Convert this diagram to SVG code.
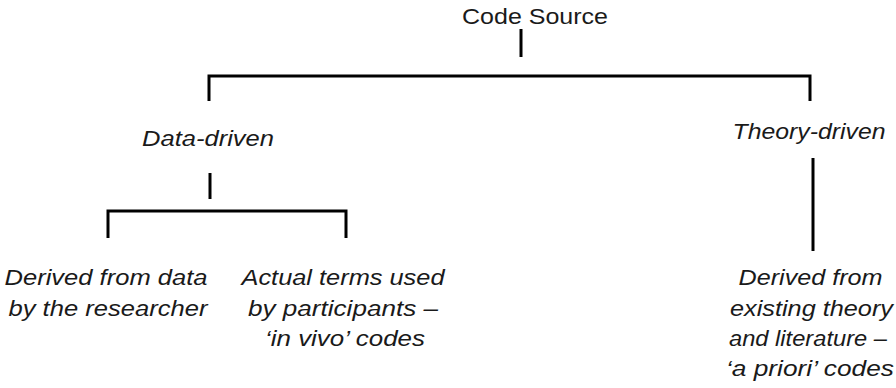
<svg xmlns="http://www.w3.org/2000/svg" width="896" height="388" viewBox="0 0 896 388">
  <style>
    text { font-family: "Liberation Sans", Arial, sans-serif; font-size: 22px; fill: #1a1a1a; }
    .it { font-style: italic; }
    .ln { fill: none; stroke: #000; stroke-width: 3; stroke-linecap: butt; stroke-linejoin: miter; }
  </style>
  <rect width="896" height="388" fill="#fff"/>

  <g id="connectors">
    <path class="ln" d="M521 29 V57"/>
    <path class="ln" d="M209 101 V76 H810 V101"/>
    <path class="ln" d="M210 173 V199"/>
    <path class="ln" d="M108 238 V211 H346 V238"/>
    <path class="ln" d="M813 158 V251"/>
  </g>

  <g id="code-source">
    <text x="535" y="24" text-anchor="middle" textLength="146" lengthAdjust="spacingAndGlyphs">Code Source</text>
  </g>

  <g id="data-driven">
    <text class="it" x="208" y="146" text-anchor="middle" textLength="132" lengthAdjust="spacingAndGlyphs">Data-driven</text>
  </g>

  <g id="theory-driven">
    <text class="it" x="809" y="139" text-anchor="middle" textLength="153" lengthAdjust="spacingAndGlyphs">Theory-driven</text>
  </g>

  <g id="derived-from-data">
    <text class="it" x="106" y="285" text-anchor="middle" textLength="203" lengthAdjust="spacingAndGlyphs">Derived from data</text>
    <text class="it" x="108" y="316" text-anchor="middle" textLength="199" lengthAdjust="spacingAndGlyphs">by the researcher</text>
  </g>

  <g id="in-vivo">
    <text class="it" x="343" y="285" text-anchor="middle" textLength="203" lengthAdjust="spacingAndGlyphs">Actual terms used</text>
    <text class="it" x="343" y="316" text-anchor="middle" textLength="190" lengthAdjust="spacingAndGlyphs">by participants –</text>
    <text class="it" x="345" y="346" text-anchor="middle" textLength="160" lengthAdjust="spacingAndGlyphs">‘in vivo’ codes</text>
  </g>

  <g id="a-priori">
    <text class="it" x="810.5" y="285" text-anchor="middle" textLength="144" lengthAdjust="spacingAndGlyphs">Derived from</text>
    <text class="it" x="811.5" y="316" text-anchor="middle" textLength="163" lengthAdjust="spacingAndGlyphs">existing theory</text>
    <text class="it" x="808" y="346" text-anchor="middle" textLength="158" lengthAdjust="spacingAndGlyphs">and literature –</text>
    <text class="it" x="810" y="376" text-anchor="middle" textLength="168" lengthAdjust="spacingAndGlyphs">‘a priori’ codes</text>
  </g>
</svg>
